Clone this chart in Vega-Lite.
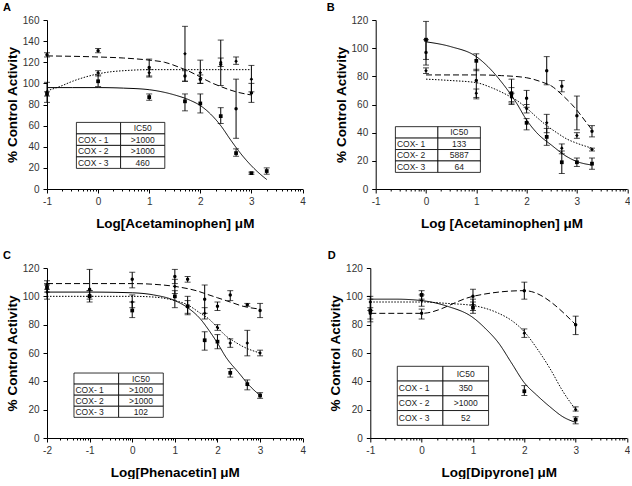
{
"$schema": "https://vega.github.io/schema/vega-lite/v6.json",
"padding": {"left": 3, "top": 2, "right": 0, "bottom": 0},
"spacing": 20,
"config": {
 "font": "Liberation Sans",
 "view": {"stroke": null},
 "axis": {"domainColor": "#000", "tickColor": "#000", "labelColor": "#333", "labelFontSize": 10, "titleFontSize": 13.5, "titleFontWeight": "bold", "titleColor": "#000", "grid": false, "labelFont": "Liberation Sans", "titleFont": "Liberation Sans", "labelFlush": false, "labelOverlap": false},
 "axisX": {"labelPadding": 3, "titlePadding": 10},
 "axisY": {"labelPadding": 4, "titlePadding": 3, "tickSize": 4},
 "title": {"fontSize": 11, "fontWeight": "bold", "anchor": "start", "frame": "group", "font": "Liberation Sans", "baseline": "alphabetic", "offset": 2, "color": "#000"}
},
"datasets": {
 "pts": [
  {"p":"A","e":"COX-1","x":-1,"y":127,"lo":125,"hi":129},{"p":"A","e":"COX-1","x":0,"y":131,"lo":129,"hi":133},{"p":"A","e":"COX-1","x":1,"y":115,"lo":107,"hi":123},{"p":"A","e":"COX-1","x":1.7,"y":107,"lo":102,"hi":112},{"p":"A","e":"COX-1","x":2,"y":104,"lo":100,"hi":108},{"p":"A","e":"COX-1","x":2.4,"y":118,"lo":98,"hi":141},{"p":"A","e":"COX-1","x":2.7,"y":76,"lo":48,"hi":104},{"p":"A","e":"COX-1","x":3,"y":91,"lo":82,"hi":100},
  {"p":"A","e":"COX-2","x":-1,"y":92,"lo":82,"hi":101},{"p":"A","e":"COX-2","x":0,"y":110,"lo":107,"hi":112},{"p":"A","e":"COX-2","x":1,"y":110,"lo":106,"hi":113},{"p":"A","e":"COX-2","x":1.7,"y":128,"lo":102,"hi":154},{"p":"A","e":"COX-2","x":2,"y":110,"lo":100,"hi":122},{"p":"A","e":"COX-2","x":2.4,"y":120,"lo":116,"hi":124},{"p":"A","e":"COX-2","x":2.7,"y":121,"lo":118,"hi":125},{"p":"A","e":"COX-2","x":3,"y":104,"lo":92,"hi":117},
  {"p":"A","e":"COX-3","x":-1,"y":90,"lo":88,"hi":92},{"p":"A","e":"COX-3","x":0,"y":102,"lo":97,"hi":108},{"p":"A","e":"COX-3","x":1,"y":87,"lo":84,"hi":90},{"p":"A","e":"COX-3","x":1.7,"y":83,"lo":74,"hi":90},{"p":"A","e":"COX-3","x":2,"y":81,"lo":72,"hi":90},{"p":"A","e":"COX-3","x":2.4,"y":69,"lo":62,"hi":77},{"p":"A","e":"COX-3","x":2.7,"y":34,"lo":31,"hi":38},{"p":"A","e":"COX-3","x":3,"y":15,"lo":14,"hi":16},{"p":"A","e":"COX-3","x":3.3,"y":17,"lo":14,"hi":20},
  {"p":"B","e":"COX-1","x":0,"y":97,"lo":88,"hi":106},{"p":"B","e":"COX-1","x":1,"y":77,"lo":64,"hi":85},{"p":"B","e":"COX-1","x":1.7,"y":66,"lo":61,"hi":72},{"p":"B","e":"COX-1","x":2,"y":64.5,"lo":58,"hi":70},{"p":"B","e":"COX-1","x":2.4,"y":84,"lo":74,"hi":94},{"p":"B","e":"COX-1","x":2.7,"y":73,"lo":69,"hi":77},{"p":"B","e":"COX-1","x":3,"y":52,"lo":42,"hi":66},{"p":"B","e":"COX-1","x":3.3,"y":41,"lo":37,"hi":45},
  {"p":"B","e":"COX-2","x":0,"y":84,"lo":82,"hi":86},{"p":"B","e":"COX-2","x":1,"y":68,"lo":65,"hi":71},{"p":"B","e":"COX-2","x":1.7,"y":65,"lo":62,"hi":68},{"p":"B","e":"COX-2","x":2,"y":57,"lo":54,"hi":60},{"p":"B","e":"COX-2","x":2.4,"y":47,"lo":40,"hi":53},{"p":"B","e":"COX-2","x":2.7,"y":29,"lo":25,"hi":32},{"p":"B","e":"COX-2","x":3,"y":38,"lo":36,"hi":40},{"p":"B","e":"COX-2","x":3.3,"y":28,"lo":27,"hi":29},
  {"p":"B","e":"COX-3","x":0,"y":106,"lo":92,"hi":119},{"p":"B","e":"COX-3","x":1,"y":91,"lo":84,"hi":96},{"p":"B","e":"COX-3","x":1.7,"y":68,"lo":60,"hi":78},{"p":"B","e":"COX-3","x":2,"y":47,"lo":42,"hi":50},{"p":"B","e":"COX-3","x":2.4,"y":37,"lo":31,"hi":43},{"p":"B","e":"COX-3","x":2.7,"y":19,"lo":11,"hi":27},{"p":"B","e":"COX-3","x":3,"y":19,"lo":16,"hi":22},{"p":"B","e":"COX-3","x":3.3,"y":18,"lo":14,"hi":22},
  {"p":"C","e":"COX-1","x":-2,"y":108,"lo":105,"hi":111},{"p":"C","e":"COX-1","x":-1,"y":105,"lo":100,"hi":119},{"p":"C","e":"COX-1","x":0,"y":112,"lo":106,"hi":117},{"p":"C","e":"COX-1","x":1,"y":114,"lo":109,"hi":119},{"p":"C","e":"COX-1","x":1.3,"y":112,"lo":110,"hi":114},{"p":"C","e":"COX-1","x":1.7,"y":98,"lo":88,"hi":108},{"p":"C","e":"COX-1","x":2,"y":93,"lo":90,"hi":96},{"p":"C","e":"COX-1","x":2.3,"y":101,"lo":97,"hi":104},{"p":"C","e":"COX-1","x":2.7,"y":94,"lo":93,"hi":95},{"p":"C","e":"COX-1","x":3,"y":90,"lo":85,"hi":95},
  {"p":"C","e":"COX-2","x":-2,"y":103,"lo":98,"hi":108},{"p":"C","e":"COX-2","x":-1,"y":101,"lo":98,"hi":104},{"p":"C","e":"COX-2","x":0,"y":96,"lo":92,"hi":101},{"p":"C","e":"COX-2","x":1,"y":107,"lo":102,"hi":112},{"p":"C","e":"COX-2","x":1.3,"y":93,"lo":87,"hi":100},{"p":"C","e":"COX-2","x":1.7,"y":88,"lo":84,"hi":92},{"p":"C","e":"COX-2","x":2,"y":78,"lo":76,"hi":80},{"p":"C","e":"COX-2","x":2.3,"y":67,"lo":64,"hi":70},{"p":"C","e":"COX-2","x":2.7,"y":67,"lo":58,"hi":76},{"p":"C","e":"COX-2","x":3,"y":60,"lo":58,"hi":62},
  {"p":"C","e":"COX-3","x":-2,"y":106,"lo":103,"hi":109},{"p":"C","e":"COX-3","x":-1,"y":100,"lo":96,"hi":104},{"p":"C","e":"COX-3","x":0,"y":90,"lo":85,"hi":96},{"p":"C","e":"COX-3","x":1,"y":100,"lo":92,"hi":104},{"p":"C","e":"COX-3","x":1.3,"y":93,"lo":88,"hi":97},{"p":"C","e":"COX-3","x":1.7,"y":69,"lo":62,"hi":75},{"p":"C","e":"COX-3","x":2,"y":68,"lo":63,"hi":73},{"p":"C","e":"COX-3","x":2.3,"y":46,"lo":43,"hi":49},{"p":"C","e":"COX-3","x":2.7,"y":38,"lo":34,"hi":41},{"p":"C","e":"COX-3","x":3,"y":30,"lo":28,"hi":32},
  {"p":"D","e":"COX-1","x":-1,"y":88,"lo":84,"hi":92},{"p":"D","e":"COX-1","x":0,"y":88,"lo":84,"hi":91},{"p":"D","e":"COX-1","x":1,"y":100,"lo":94,"hi":105},{"p":"D","e":"COX-1","x":2,"y":104,"lo":98,"hi":110},{"p":"D","e":"COX-1","x":3,"y":80,"lo":73,"hi":86},
  {"p":"D","e":"COX-2","x":-1,"y":96,"lo":90,"hi":100},{"p":"D","e":"COX-2","x":0,"y":97,"lo":93,"hi":101},{"p":"D","e":"COX-2","x":1,"y":94,"lo":90,"hi":98},{"p":"D","e":"COX-2","x":2,"y":74,"lo":71,"hi":77},{"p":"D","e":"COX-2","x":3,"y":20,"lo":19,"hi":22},
  {"p":"D","e":"COX-3","x":-1,"y":90,"lo":82,"hi":98},{"p":"D","e":"COX-3","x":0,"y":101,"lo":98,"hi":104},{"p":"D","e":"COX-3","x":1,"y":92,"lo":88,"hi":96},{"p":"D","e":"COX-3","x":2,"y":33,"lo":30,"hi":37},{"p":"D","e":"COX-3","x":3,"y":13,"lo":10,"hi":15}
 ],
 "crv": [
  {"p":"A","e":"COX-1","x":-1,"y":126},{"p":"A","e":"COX-1","x":0,"y":125},{"p":"A","e":"COX-1","x":0.5,"y":124},{"p":"A","e":"COX-1","x":1,"y":122},{"p":"A","e":"COX-1","x":1.3,"y":120},{"p":"A","e":"COX-1","x":1.6,"y":115},{"p":"A","e":"COX-1","x":1.8,"y":111},{"p":"A","e":"COX-1","x":2,"y":106},{"p":"A","e":"COX-1","x":2.2,"y":101},{"p":"A","e":"COX-1","x":2.4,"y":97},{"p":"A","e":"COX-1","x":2.7,"y":92},{"p":"A","e":"COX-1","x":3,"y":89},
  {"p":"A","e":"COX-2","x":-1,"y":93},{"p":"A","e":"COX-2","x":-0.75,"y":97},{"p":"A","e":"COX-2","x":-0.5,"y":102},{"p":"A","e":"COX-2","x":-0.25,"y":106},{"p":"A","e":"COX-2","x":0,"y":109},{"p":"A","e":"COX-2","x":0.25,"y":111},{"p":"A","e":"COX-2","x":0.5,"y":112},{"p":"A","e":"COX-2","x":1,"y":113},{"p":"A","e":"COX-2","x":1.5,"y":113},{"p":"A","e":"COX-2","x":2,"y":113},{"p":"A","e":"COX-2","x":3,"y":113},
  {"p":"A","e":"COX-3","x":-1,"y":96},{"p":"A","e":"COX-3","x":-0.5,"y":96},{"p":"A","e":"COX-3","x":0,"y":96},{"p":"A","e":"COX-3","x":0.5,"y":95.5},{"p":"A","e":"COX-3","x":1,"y":94},{"p":"A","e":"COX-3","x":1.5,"y":89},{"p":"A","e":"COX-3","x":1.8,"y":84},{"p":"A","e":"COX-3","x":2,"y":79},{"p":"A","e":"COX-3","x":2.2,"y":71},{"p":"A","e":"COX-3","x":2.4,"y":60},{"p":"A","e":"COX-3","x":2.6,"y":46},{"p":"A","e":"COX-3","x":2.8,"y":33},{"p":"A","e":"COX-3","x":3,"y":22},{"p":"A","e":"COX-3","x":3.15,"y":15},{"p":"A","e":"COX-3","x":3.3,"y":9},
  {"p":"B","e":"COX-1","x":0,"y":81},{"p":"B","e":"COX-1","x":0.5,"y":81},{"p":"B","e":"COX-1","x":1,"y":81},{"p":"B","e":"COX-1","x":1.5,"y":80.5},{"p":"B","e":"COX-1","x":2,"y":79},{"p":"B","e":"COX-1","x":2.3,"y":76},{"p":"B","e":"COX-1","x":2.5,"y":73},{"p":"B","e":"COX-1","x":2.7,"y":67},{"p":"B","e":"COX-1","x":2.9,"y":60},{"p":"B","e":"COX-1","x":3,"y":56},{"p":"B","e":"COX-1","x":3.15,"y":49},{"p":"B","e":"COX-1","x":3.3,"y":42},
  {"p":"B","e":"COX-2","x":0,"y":78},{"p":"B","e":"COX-2","x":0.5,"y":77},{"p":"B","e":"COX-2","x":1,"y":75.5},{"p":"B","e":"COX-2","x":1.3,"y":72},{"p":"B","e":"COX-2","x":1.6,"y":67},{"p":"B","e":"COX-2","x":1.8,"y":63},{"p":"B","e":"COX-2","x":2,"y":57.5},{"p":"B","e":"COX-2","x":2.2,"y":51},{"p":"B","e":"COX-2","x":2.4,"y":45},{"p":"B","e":"COX-2","x":2.6,"y":40},{"p":"B","e":"COX-2","x":2.8,"y":35.5},{"p":"B","e":"COX-2","x":3,"y":32.5},{"p":"B","e":"COX-2","x":3.3,"y":29},
  {"p":"B","e":"COX-3","x":0,"y":104.5},{"p":"B","e":"COX-3","x":0.5,"y":101},{"p":"B","e":"COX-3","x":1,"y":94},{"p":"B","e":"COX-3","x":1.2,"y":88},{"p":"B","e":"COX-3","x":1.5,"y":76},{"p":"B","e":"COX-3","x":1.8,"y":61},{"p":"B","e":"COX-3","x":2,"y":49},{"p":"B","e":"COX-3","x":2.2,"y":40},{"p":"B","e":"COX-3","x":2.5,"y":31},{"p":"B","e":"COX-3","x":2.8,"y":23},{"p":"B","e":"COX-3","x":3,"y":19.5},{"p":"B","e":"COX-3","x":3.3,"y":17},
  {"p":"C","e":"COX-1","x":-2,"y":109},{"p":"C","e":"COX-1","x":-1,"y":109},{"p":"C","e":"COX-1","x":0,"y":109},{"p":"C","e":"COX-1","x":0.5,"y":108.5},{"p":"C","e":"COX-1","x":1,"y":107},{"p":"C","e":"COX-1","x":1.5,"y":104},{"p":"C","e":"COX-1","x":1.8,"y":101},{"p":"C","e":"COX-1","x":2,"y":99},{"p":"C","e":"COX-1","x":2.3,"y":96},{"p":"C","e":"COX-1","x":2.6,"y":93},{"p":"C","e":"COX-1","x":3,"y":91},
  {"p":"C","e":"COX-2","x":-2,"y":100},{"p":"C","e":"COX-2","x":-1,"y":100},{"p":"C","e":"COX-2","x":0,"y":100},{"p":"C","e":"COX-2","x":0.5,"y":99.5},{"p":"C","e":"COX-2","x":1,"y":97},{"p":"C","e":"COX-2","x":1.3,"y":94},{"p":"C","e":"COX-2","x":1.6,"y":88},{"p":"C","e":"COX-2","x":1.8,"y":84},{"p":"C","e":"COX-2","x":2,"y":78},{"p":"C","e":"COX-2","x":2.2,"y":72},{"p":"C","e":"COX-2","x":2.4,"y":68},{"p":"C","e":"COX-2","x":2.6,"y":64.5},{"p":"C","e":"COX-2","x":3,"y":60},
  {"p":"C","e":"COX-3","x":-2,"y":103},{"p":"C","e":"COX-3","x":-1,"y":103},{"p":"C","e":"COX-3","x":0,"y":102.5},{"p":"C","e":"COX-3","x":0.5,"y":101},{"p":"C","e":"COX-3","x":1,"y":97},{"p":"C","e":"COX-3","x":1.3,"y":92},{"p":"C","e":"COX-3","x":1.6,"y":84},{"p":"C","e":"COX-3","x":1.8,"y":76},{"p":"C","e":"COX-3","x":2,"y":67},{"p":"C","e":"COX-3","x":2.2,"y":57},{"p":"C","e":"COX-3","x":2.5,"y":46},{"p":"C","e":"COX-3","x":2.75,"y":37},{"p":"C","e":"COX-3","x":3,"y":30},
  {"p":"D","e":"COX-1","x":-1,"y":88},{"p":"D","e":"COX-1","x":0,"y":88},{"p":"D","e":"COX-1","x":1,"y":100},{"p":"D","e":"COX-1","x":2,"y":104},{"p":"D","e":"COX-1","x":3,"y":80},
  {"p":"D","e":"COX-2","x":-1,"y":96},{"p":"D","e":"COX-2","x":0,"y":96},{"p":"D","e":"COX-2","x":0.5,"y":95},{"p":"D","e":"COX-2","x":1,"y":93.5},{"p":"D","e":"COX-2","x":1.5,"y":88},{"p":"D","e":"COX-2","x":1.75,"y":83},{"p":"D","e":"COX-2","x":2,"y":75},{"p":"D","e":"COX-2","x":2.25,"y":63},{"p":"D","e":"COX-2","x":2.5,"y":49},{"p":"D","e":"COX-2","x":2.75,"y":33},{"p":"D","e":"COX-2","x":3,"y":20},
  {"p":"D","e":"COX-3","x":-1,"y":98},{"p":"D","e":"COX-3","x":-0.5,"y":98},{"p":"D","e":"COX-3","x":0,"y":97},{"p":"D","e":"COX-3","x":0.5,"y":93},{"p":"D","e":"COX-3","x":1,"y":85},{"p":"D","e":"COX-3","x":1.25,"y":77},{"p":"D","e":"COX-3","x":1.5,"y":67},{"p":"D","e":"COX-3","x":1.75,"y":53},{"p":"D","e":"COX-3","x":2,"y":39},{"p":"D","e":"COX-3","x":2.25,"y":30},{"p":"D","e":"COX-3","x":2.5,"y":22},{"p":"D","e":"COX-3","x":2.75,"y":15},{"p":"D","e":"COX-3","x":3,"y":11}
 ],
 "tbl": [
  {"p":"A","r":"h","c":"a","t":""},{"p":"A","r":"h","c":"b","t":"IC50"},{"p":"A","r":"1","c":"a","t":"COX - 1"},{"p":"A","r":"1","c":"b","t":">1000"},{"p":"A","r":"2","c":"a","t":"COX - 2"},{"p":"A","r":"2","c":"b","t":">1000"},{"p":"A","r":"3","c":"a","t":"COX - 3"},{"p":"A","r":"3","c":"b","t":"460"},
  {"p":"B","r":"h","c":"a","t":""},{"p":"B","r":"h","c":"b","t":"IC50"},{"p":"B","r":"1","c":"a","t":"COX- 1"},{"p":"B","r":"1","c":"b","t":"133"},{"p":"B","r":"2","c":"a","t":"COX- 2"},{"p":"B","r":"2","c":"b","t":"5887"},{"p":"B","r":"3","c":"a","t":"COX- 3"},{"p":"B","r":"3","c":"b","t":"64"},
  {"p":"C","r":"h","c":"a","t":""},{"p":"C","r":"h","c":"b","t":"IC50"},{"p":"C","r":"1","c":"a","t":"COX- 1"},{"p":"C","r":"1","c":"b","t":">1000"},{"p":"C","r":"2","c":"a","t":"COX- 2"},{"p":"C","r":"2","c":"b","t":">1000"},{"p":"C","r":"3","c":"a","t":"COX- 3"},{"p":"C","r":"3","c":"b","t":"102"},
  {"p":"D","r":"h","c":"a","t":""},{"p":"D","r":"h","c":"b","t":"IC50"},{"p":"D","r":"1","c":"a","t":"COX - 1"},{"p":"D","r":"1","c":"b","t":"350"},{"p":"D","r":"2","c":"a","t":"COX - 2"},{"p":"D","r":"2","c":"b","t":">1000"},{"p":"D","r":"3","c":"a","t":"COX - 3"},{"p":"D","r":"3","c":"b","t":"52"}
 ]
},
"vconcat": [
 {"hconcat": [
  {"width": 255.5, "height": 169, "title": {"text": "A", "dx": -44},
   "resolve": {"scale": {"x": "independent", "y": "independent"}},
   "layer": [
    {"encoding": {"x": {"field": "x", "type": "quantitative", "title": "Log[Acetaminophen] μM", "scale": {"domain": [-1, 4], "nice": false, "zero": false},
       "axis": {"values": [-1,-0.69897,-0.52288,-0.39794,-0.30103,-0.22185,-0.1549,-0.09691,-0.04576,0,0.30103,0.47712,0.60206,0.69897,0.77815,0.8451,0.90309,0.95424,1,1.30103,1.47712,1.60206,1.69897,1.77815,1.8451,1.90309,1.95424,2,2.30103,2.47712,2.60206,2.69897,2.77815,2.8451,2.90309,2.95424,3,3.30103,3.47712,3.60206,3.69897,3.77815,3.8451,3.90309,3.95424,4],
        "labelExpr": "abs(datum.value - round(datum.value)) < 0.001 ? '' + round(datum.value) : ''",
        "tickSize": {"condition": {"test": "abs(datum.value - round(datum.value)) < 0.001", "value": 4}, "value": 2}}}},
     "layer": [
      {"data": {"name": "crv"}, "transform": [{"filter": "datum.p == 'A'"}], "mark": {"type": "line", "interpolate": "monotone", "color": "#000", "strokeWidth": 1},
       "encoding": {"y": {"field": "y", "type": "quantitative", "title": "% Control Activity", "scale": {"domain": [0, 160], "nice": false, "zero": false}, "axis": {"values": [0,20,40,60,80,100,120,140,160]}},
        "strokeDash": {"field": "e", "type": "nominal", "scale": {"domain": ["COX-1","COX-2","COX-3"], "range": [[6,3],[1.5,1.5],[1,0]]}, "legend": null}}},
      {"data": {"name": "pts"}, "transform": [{"filter": "datum.p == 'A'"}], "mark": {"type": "rule", "color": "#000", "strokeWidth": 1},
       "encoding": {"y": {"field": "lo", "type": "quantitative", "title": "% Control Activity", "scale": {"domain": [0, 160], "nice": false, "zero": false}, "axis": {"values": [0,20,40,60,80,100,120,140,160]}}, "y2": {"field": "hi"}}},
      {"data": {"name": "pts"}, "transform": [{"filter": "datum.p == 'A'"}], "mark": {"type": "tick", "orient": "horizontal", "size": 6, "thickness": 1, "color": "#000"},
       "encoding": {"y": {"field": "lo", "type": "quantitative", "title": "% Control Activity", "scale": {"domain": [0, 160], "nice": false, "zero": false}, "axis": {"values": [0,20,40,60,80,100,120,140,160]}}}},
      {"data": {"name": "pts"}, "transform": [{"filter": "datum.p == 'A'"}], "mark": {"type": "tick", "orient": "horizontal", "size": 6, "thickness": 1, "color": "#000"},
       "encoding": {"y": {"field": "hi", "type": "quantitative", "title": "% Control Activity", "scale": {"domain": [0, 160], "nice": false, "zero": false}, "axis": {"values": [0,20,40,60,80,100,120,140,160]}}}},
      {"data": {"name": "pts"}, "transform": [{"filter": "datum.p == 'A'"}], "mark": {"type": "point", "filled": true, "color": "#000", "opacity": 1},
       "encoding": {"y": {"field": "y", "type": "quantitative", "title": "% Control Activity", "scale": {"domain": [0, 160], "nice": false, "zero": false}, "axis": {"values": [0,20,40,60,80,100,120,140,160]}},
        "shape": {"field": "e", "type": "nominal", "scale": {"domain": ["COX-1","COX-2","COX-3"], "range": ["circle","diamond","square"]}, "legend": null},
        "size": {"field": "e", "type": "ordinal", "scale": {"domain": ["COX-1","COX-2","COX-3"], "range": [12,14,20]}, "legend": null}}}
     ]},
    {"data": {"name": "tbl"}, "transform": [{"filter": "datum.p == 'A'"}],
     "encoding": {"x": {"field": "c", "type": "nominal", "scale": {"domain": ["a","b","x1","x2"], "paddingInner": 0, "paddingOuter": 0.89, "align": 0.3736, "round": false}, "axis": null},
      "y": {"field": "r", "type": "nominal", "scale": {"domain": ["y1","y2","y3","y4","y5","y6","y7","y8","h","1","2","3","y9"], "paddingInner": 0, "paddingOuter": 0.848, "align": 0.533, "round": false}, "axis": null}},
     "layer": [
      {"mark": {"type": "rect", "fill": "#fff", "stroke": "#000", "strokeWidth": 0.8}},
      {"transform": [{"filter": "datum.c == 'a'"}], "mark": {"type": "text", "align": "left", "dx": 1.5, "fontSize": 8.5, "color": "#222", "baseline": "middle"},
       "encoding": {"x": {"field": "c", "type": "nominal", "bandPosition": 0, "scale": {"domain": ["a","b","x1","x2"], "paddingInner": 0, "paddingOuter": 0.89, "align": 0.3736, "round": false}, "axis": null}, "text": {"field": "t"}}},
      {"transform": [{"filter": "datum.c == 'b'"}], "mark": {"type": "text", "align": "center", "fontSize": 8.5, "color": "#222", "baseline": "middle"},
       "encoding": {"text": {"field": "t"}}}
     ]}
   ]},
  {"width": 251.5, "height": 169, "title": {"text": "B", "dx": -49},
   "resolve": {"scale": {"x": "independent", "y": "independent"}},
   "layer": [
    {"encoding": {"x": {"field": "x", "type": "quantitative", "title": "Log [Acetaminophen] μM", "scale": {"domain": [-1, 4], "nice": false, "zero": false},
       "axis": {"values": [-1,-0.69897,-0.52288,-0.39794,-0.30103,-0.22185,-0.1549,-0.09691,-0.04576,0,0.30103,0.47712,0.60206,0.69897,0.77815,0.8451,0.90309,0.95424,1,1.30103,1.47712,1.60206,1.69897,1.77815,1.8451,1.90309,1.95424,2,2.30103,2.47712,2.60206,2.69897,2.77815,2.8451,2.90309,2.95424,3,3.30103,3.47712,3.60206,3.69897,3.77815,3.8451,3.90309,3.95424,4],
        "labelExpr": "abs(datum.value - round(datum.value)) < 0.001 ? '' + round(datum.value) : ''",
        "tickSize": {"condition": {"test": "abs(datum.value - round(datum.value)) < 0.001", "value": 4}, "value": 2}}}},
     "layer": [
      {"data": {"name": "crv"}, "transform": [{"filter": "datum.p == 'B'"}], "mark": {"type": "line", "interpolate": "monotone", "color": "#000", "strokeWidth": 1},
       "encoding": {"y": {"field": "y", "type": "quantitative", "title": "% Control Activity", "scale": {"domain": [0, 120], "nice": false, "zero": false}, "axis": {"values": [0,20,40,60,80,100,120]}},
        "strokeDash": {"field": "e", "type": "nominal", "scale": {"domain": ["COX-1","COX-2","COX-3"], "range": [[6,3],[1.5,1.5],[1,0]]}, "legend": null}}},
      {"data": {"name": "pts"}, "transform": [{"filter": "datum.p == 'B'"}], "mark": {"type": "rule", "color": "#000", "strokeWidth": 1},
       "encoding": {"y": {"field": "lo", "type": "quantitative", "title": "% Control Activity", "scale": {"domain": [0, 120], "nice": false, "zero": false}, "axis": {"values": [0,20,40,60,80,100,120]}}, "y2": {"field": "hi"}}},
      {"data": {"name": "pts"}, "transform": [{"filter": "datum.p == 'B'"}], "mark": {"type": "tick", "orient": "horizontal", "size": 6, "thickness": 1, "color": "#000"},
       "encoding": {"y": {"field": "lo", "type": "quantitative", "title": "% Control Activity", "scale": {"domain": [0, 120], "nice": false, "zero": false}, "axis": {"values": [0,20,40,60,80,100,120]}}}},
      {"data": {"name": "pts"}, "transform": [{"filter": "datum.p == 'B'"}], "mark": {"type": "tick", "orient": "horizontal", "size": 6, "thickness": 1, "color": "#000"},
       "encoding": {"y": {"field": "hi", "type": "quantitative", "title": "% Control Activity", "scale": {"domain": [0, 120], "nice": false, "zero": false}, "axis": {"values": [0,20,40,60,80,100,120]}}}},
      {"data": {"name": "pts"}, "transform": [{"filter": "datum.p == 'B'"}], "mark": {"type": "point", "filled": true, "color": "#000", "opacity": 1},
       "encoding": {"y": {"field": "y", "type": "quantitative", "title": "% Control Activity", "scale": {"domain": [0, 120], "nice": false, "zero": false}, "axis": {"values": [0,20,40,60,80,100,120]}},
        "shape": {"field": "e", "type": "nominal", "scale": {"domain": ["COX-1","COX-2","COX-3"], "range": ["circle","diamond","square"]}, "legend": null},
        "size": {"field": "e", "type": "ordinal", "scale": {"domain": ["COX-1","COX-2","COX-3"], "range": [12,14,20]}, "legend": null}}}
     ]},
    {"data": {"name": "tbl"}, "transform": [{"filter": "datum.p == 'B'"}],
     "encoding": {"x": {"field": "c", "type": "nominal", "scale": {"domain": ["a","b","x1","x2"], "paddingInner": 0, "paddingOuter": 0.959, "align": 0.2417, "round": false}, "axis": null},
      "y": {"field": "r", "type": "nominal", "scale": {"domain": ["y1","y2","y3","y4","y5","y6","y7","y8","y9","h","1","2","3"], "paddingInner": 0, "paddingOuter": 0.893, "align": 0.186, "round": false}, "axis": null}},
     "layer": [
      {"mark": {"type": "rect", "fill": "#fff", "stroke": "#000", "strokeWidth": 0.8}},
      {"transform": [{"filter": "datum.c == 'a'"}], "mark": {"type": "text", "align": "left", "dx": 1.5, "fontSize": 8.5, "color": "#222", "baseline": "middle"},
       "encoding": {"x": {"field": "c", "type": "nominal", "bandPosition": 0, "scale": {"domain": ["a","b","x1","x2"], "paddingInner": 0, "paddingOuter": 0.959, "align": 0.2417, "round": false}, "axis": null}, "text": {"field": "t"}}},
      {"transform": [{"filter": "datum.c == 'b'"}], "mark": {"type": "text", "align": "center", "fontSize": 8.5, "color": "#222", "baseline": "middle"},
       "encoding": {"text": {"field": "t"}}}
     ]}
   ]}
 ], "spacing": 72.7, "bounds": "flush"},
 {"hconcat": [
  {"width": 255.7, "height": 170, "title": {"text": "C", "dx": -44},
   "resolve": {"scale": {"x": "independent", "y": "independent"}},
   "layer": [
    {"encoding": {"x": {"field": "x", "type": "quantitative", "title": "Log[Phenacetin] μM", "scale": {"domain": [-2, 4], "nice": false, "zero": false},
       "axis": {"values": [-2,-1.69897,-1.52288,-1.39794,-1.30103,-1.22185,-1.1549,-1.09691,-1.04576,-1,-0.69897,-0.52288,-0.39794,-0.30103,-0.22185,-0.1549,-0.09691,-0.04576,0,0.30103,0.47712,0.60206,0.69897,0.77815,0.8451,0.90309,0.95424,1,1.30103,1.47712,1.60206,1.69897,1.77815,1.8451,1.90309,1.95424,2,2.30103,2.47712,2.60206,2.69897,2.77815,2.8451,2.90309,2.95424,3,3.30103,3.47712,3.60206,3.69897,3.77815,3.8451,3.90309,3.95424,4],
        "labelExpr": "abs(datum.value - round(datum.value)) < 0.001 ? '' + round(datum.value) : ''",
        "tickSize": {"condition": {"test": "abs(datum.value - round(datum.value)) < 0.001", "value": 4}, "value": 2}}}},
     "layer": [
      {"data": {"name": "crv"}, "transform": [{"filter": "datum.p == 'C'"}], "mark": {"type": "line", "interpolate": "monotone", "color": "#000", "strokeWidth": 1},
       "encoding": {"y": {"field": "y", "type": "quantitative", "title": "% Control Activity", "scale": {"domain": [0, 120], "nice": false, "zero": false}, "axis": {"values": [0,20,40,60,80,100,120]}},
        "strokeDash": {"field": "e", "type": "nominal", "scale": {"domain": ["COX-1","COX-2","COX-3"], "range": [[6,3],[1.5,1.5],[1,0]]}, "legend": null}}},
      {"data": {"name": "pts"}, "transform": [{"filter": "datum.p == 'C'"}], "mark": {"type": "rule", "color": "#000", "strokeWidth": 1},
       "encoding": {"y": {"field": "lo", "type": "quantitative", "title": "% Control Activity", "scale": {"domain": [0, 120], "nice": false, "zero": false}, "axis": {"values": [0,20,40,60,80,100,120]}}, "y2": {"field": "hi"}}},
      {"data": {"name": "pts"}, "transform": [{"filter": "datum.p == 'C'"}], "mark": {"type": "tick", "orient": "horizontal", "size": 6, "thickness": 1, "color": "#000"},
       "encoding": {"y": {"field": "lo", "type": "quantitative", "title": "% Control Activity", "scale": {"domain": [0, 120], "nice": false, "zero": false}, "axis": {"values": [0,20,40,60,80,100,120]}}}},
      {"data": {"name": "pts"}, "transform": [{"filter": "datum.p == 'C'"}], "mark": {"type": "tick", "orient": "horizontal", "size": 6, "thickness": 1, "color": "#000"},
       "encoding": {"y": {"field": "hi", "type": "quantitative", "title": "% Control Activity", "scale": {"domain": [0, 120], "nice": false, "zero": false}, "axis": {"values": [0,20,40,60,80,100,120]}}}},
      {"data": {"name": "pts"}, "transform": [{"filter": "datum.p == 'C'"}], "mark": {"type": "point", "filled": true, "color": "#000", "opacity": 1},
       "encoding": {"y": {"field": "y", "type": "quantitative", "title": "% Control Activity", "scale": {"domain": [0, 120], "nice": false, "zero": false}, "axis": {"values": [0,20,40,60,80,100,120]}},
        "shape": {"field": "e", "type": "nominal", "scale": {"domain": ["COX-1","COX-2","COX-3"], "range": ["circle","diamond","square"]}, "legend": null},
        "size": {"field": "e", "type": "ordinal", "scale": {"domain": ["COX-1","COX-2","COX-3"], "range": [12,14,20]}, "legend": null}}}
     ]},
    {"data": {"name": "tbl"}, "transform": [{"filter": "datum.p == 'C'"}],
     "encoding": {"x": {"field": "c", "type": "nominal", "scale": {"domain": ["a","b","x1","x2"], "paddingInner": 0, "paddingOuter": 0.863, "align": 0.35, "round": false}, "axis": null},
      "y": {"field": "r", "type": "nominal", "scale": {"domain": ["y1","y2","y3","y4","y5","y6","y7","y8","y9","h","1","2","3","y10"], "paddingInner": 0, "paddingOuter": 0.671, "align": 0.356, "round": false}, "axis": null}},
     "layer": [
      {"mark": {"type": "rect", "fill": "#fff", "stroke": "#000", "strokeWidth": 0.8}},
      {"transform": [{"filter": "datum.c == 'a'"}], "mark": {"type": "text", "align": "left", "dx": 1.5, "fontSize": 8.5, "color": "#222", "baseline": "middle"},
       "encoding": {"x": {"field": "c", "type": "nominal", "bandPosition": 0, "scale": {"domain": ["a","b","x1","x2"], "paddingInner": 0, "paddingOuter": 0.863, "align": 0.35, "round": false}, "axis": null}, "text": {"field": "t"}}},
      {"transform": [{"filter": "datum.c == 'b'"}], "mark": {"type": "text", "align": "center", "fontSize": 8.5, "color": "#222", "baseline": "middle"},
       "encoding": {"text": {"field": "t"}}}
     ]}
   ]},
  {"width": 256.7, "height": 170, "title": {"text": "D", "dx": -42.5},
   "resolve": {"scale": {"x": "independent", "y": "independent"}},
   "layer": [
    {"encoding": {"x": {"field": "x", "type": "quantitative", "title": "Log[Dipyrone] μM", "scale": {"domain": [-1, 4], "nice": false, "zero": false},
       "axis": {"values": [-1,-0.69897,-0.52288,-0.39794,-0.30103,-0.22185,-0.1549,-0.09691,-0.04576,0,0.30103,0.47712,0.60206,0.69897,0.77815,0.8451,0.90309,0.95424,1,1.30103,1.47712,1.60206,1.69897,1.77815,1.8451,1.90309,1.95424,2,2.30103,2.47712,2.60206,2.69897,2.77815,2.8451,2.90309,2.95424,3,3.30103,3.47712,3.60206,3.69897,3.77815,3.8451,3.90309,3.95424,4],
        "labelExpr": "abs(datum.value - round(datum.value)) < 0.001 ? '' + round(datum.value) : ''",
        "tickSize": {"condition": {"test": "abs(datum.value - round(datum.value)) < 0.001", "value": 4}, "value": 2}}}},
     "layer": [
      {"data": {"name": "crv"}, "transform": [{"filter": "datum.p == 'D'"}], "mark": {"type": "line", "interpolate": "monotone", "color": "#000", "strokeWidth": 1},
       "encoding": {"y": {"field": "y", "type": "quantitative", "title": "% Control Activity", "scale": {"domain": [0, 120], "nice": false, "zero": false}, "axis": {"values": [0,20,40,60,80,100,120]}},
        "strokeDash": {"field": "e", "type": "nominal", "scale": {"domain": ["COX-1","COX-2","COX-3"], "range": [[6,3],[1.5,1.5],[1,0]]}, "legend": null}}},
      {"data": {"name": "pts"}, "transform": [{"filter": "datum.p == 'D'"}], "mark": {"type": "rule", "color": "#000", "strokeWidth": 1},
       "encoding": {"y": {"field": "lo", "type": "quantitative", "title": "% Control Activity", "scale": {"domain": [0, 120], "nice": false, "zero": false}, "axis": {"values": [0,20,40,60,80,100,120]}}, "y2": {"field": "hi"}}},
      {"data": {"name": "pts"}, "transform": [{"filter": "datum.p == 'D'"}], "mark": {"type": "tick", "orient": "horizontal", "size": 6, "thickness": 1, "color": "#000"},
       "encoding": {"y": {"field": "lo", "type": "quantitative", "title": "% Control Activity", "scale": {"domain": [0, 120], "nice": false, "zero": false}, "axis": {"values": [0,20,40,60,80,100,120]}}}},
      {"data": {"name": "pts"}, "transform": [{"filter": "datum.p == 'D'"}], "mark": {"type": "tick", "orient": "horizontal", "size": 6, "thickness": 1, "color": "#000"},
       "encoding": {"y": {"field": "hi", "type": "quantitative", "title": "% Control Activity", "scale": {"domain": [0, 120], "nice": false, "zero": false}, "axis": {"values": [0,20,40,60,80,100,120]}}}},
      {"data": {"name": "pts"}, "transform": [{"filter": "datum.p == 'D'"}], "mark": {"type": "point", "filled": true, "color": "#000", "opacity": 1},
       "encoding": {"y": {"field": "y", "type": "quantitative", "title": "% Control Activity", "scale": {"domain": [0, 120], "nice": false, "zero": false}, "axis": {"values": [0,20,40,60,80,100,120]}},
        "shape": {"field": "e", "type": "nominal", "scale": {"domain": ["COX-1","COX-2","COX-3"], "range": ["circle","diamond","square"]}, "legend": null},
        "size": {"field": "e", "type": "ordinal", "scale": {"domain": ["COX-1","COX-2","COX-3"], "range": [12,14,20]}, "legend": null}}}
     ]},
    {"data": {"name": "tbl"}, "transform": [{"filter": "datum.p == 'D'"}],
     "encoding": {"x": {"field": "c", "type": "nominal", "scale": {"domain": ["a","b","x1","x2"], "paddingInner": 0, "paddingOuter": 0.812, "align": 0.364, "round": false}, "axis": null},
      "y": {"field": "r", "type": "nominal", "scale": {"domain": ["y1","y2","y3","y4","y5","y6","h","1","2","3"], "paddingInner": 0, "paddingOuter": 0.763, "align": 0.436, "round": false}, "axis": null}},
     "layer": [
      {"mark": {"type": "rect", "fill": "#fff", "stroke": "#000", "strokeWidth": 0.8}},
      {"transform": [{"filter": "datum.c == 'a'"}], "mark": {"type": "text", "align": "left", "dx": 1.5, "fontSize": 8.5, "color": "#222", "baseline": "middle"},
       "encoding": {"x": {"field": "c", "type": "nominal", "bandPosition": 0, "scale": {"domain": ["a","b","x1","x2"], "paddingInner": 0, "paddingOuter": 0.812, "align": 0.364, "round": false}, "axis": null}, "text": {"field": "t"}}},
      {"transform": [{"filter": "datum.c == 'b'"}], "mark": {"type": "text", "align": "center", "fontSize": 8.5, "color": "#222", "baseline": "middle"},
       "encoding": {"text": {"field": "t"}}}
     ]}
   ]}
 ], "spacing": 67.3, "bounds": "flush"}
]
}
